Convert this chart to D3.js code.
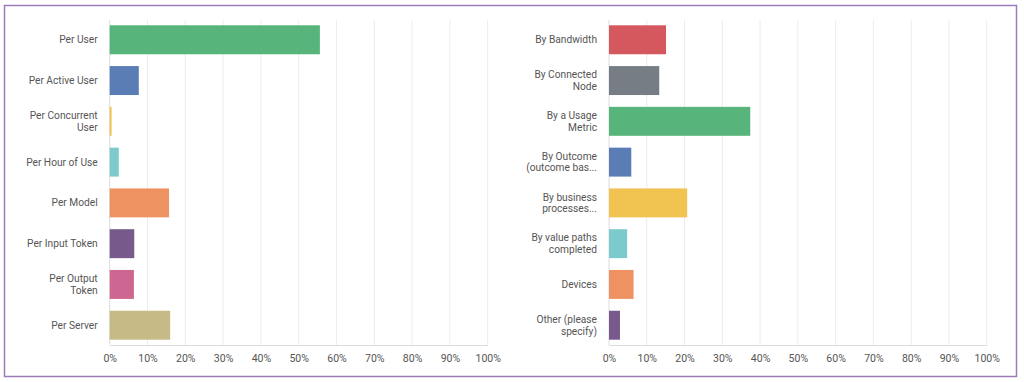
<!DOCTYPE html>
<html><head><meta charset="utf-8">
<script src="https://cdn.jsdelivr.net/npm/d3@7"></script>
<style>
html,body{margin:0;padding:0;background:#fff;}
svg{display:block;}
text{font-family:Roboto,"Open Sans",sans-serif;}
</style></head>
<body><svg id="c" width="1024" height="382"></svg>
<script>
const leftCategories = ["Per User","Per Active User","Per Concurrent User","Per Hour of Use","Per Model","Per Input Token","Per Output Token","Per Server"];
const leftLabels = [["Per User"],["Per Active User"],["Per Concurrent","User"],["Per Hour of Use"],["Per Model"],["Per Input Token"],["Per Output","Token"],["Per Server"]];
const leftValues = [55.6, 7.7, 0.5, 2.4, 15.7, 6.5, 6.4, 16.0];
const leftColors = ["#57b47b","#5a7db6","#f1c452","#7ccacb","#ef9262","#775a8b","#cd6690","#c6bb86"];

const rightCategories = ["By Bandwidth","By Connected Node","By a Usage Metric","By Outcome (outcome bas...","By business processes...","By value paths completed","Devices","Other (please specify)"];
const rightLabels = [["By Bandwidth"],["By Connected","Node"],["By a Usage","Metric"],["By Outcome","(outcome bas..."],["By business","processes..."],["By value paths","completed"],["Devices"],["Other (please","specify)"]];
const rightValues = [15.1, 13.3, 37.4, 5.9, 20.7, 4.8, 6.5, 2.9];
const rightColors = ["#d5585f","#767d84","#57b47b","#5a7db6","#f1c452","#7ccacb","#ef9262","#775a8b"];

const tickValues = [0,10,20,30,40,50,60,70,80,90,100];
const tickLabels = ["0%","10%","20%","30%","40%","50%","60%","70%","80%","90%","100%"];

const svg = d3.select("#c");
svg.append("rect").attr("x",4.5).attr("y",5.5).attr("width",1012).attr("height",371)
  .attr("fill","#fff").attr("stroke","#9f7bb9").attr("stroke-width",1.5);

function panel(x0, x1, cats, labels, vals, cols){
  const x = d3.scaleLinear().domain([0,100]).range([x0,x1]);
  const y = d3.scaleBand().domain(cats).range([20,345]).paddingInner(0.29).paddingOuter(0.13);
  const g = svg.append("g");
  g.selectAll("line.grid").data(tickValues.slice(1)).enter().append("line")
    .attr("x1",d=>x(d)).attr("x2",d=>x(d)).attr("y1",20).attr("y2",345)
    .attr("stroke","#ececec").attr("stroke-width",1);
  const ax = g.append("g").attr("transform","translate(0,345)")
    .call(d3.axisBottom(x).tickValues(tickValues).tickFormat((d,i)=>tickLabels[i]).tickSize(0).tickPadding(10));
  ax.select(".domain").attr("stroke","#dcdcdc").attr("stroke-width",1.2);
  ax.selectAll("text").attr("fill","#555").style("font-size","10.5px").style("font-family","Roboto,sans-serif");
  g.append("line").attr("x1",x0).attr("x2",x0).attr("y1",20).attr("y2",345).attr("stroke","#dcdcdc");
  g.selectAll("rect.bar").data(vals).enter().append("rect")
    .attr("x",x0).attr("y",(d,i)=>y(cats[i])).attr("height",y.bandwidth())
    .attr("width",d=>x(d)-x0).attr("fill",(d,i)=>cols[i]);
  labels.forEach((lines,i)=>{
    const cy = y(cats[i]) + y.bandwidth()/2;
    const n = lines.length, lh = 11.5;
    lines.forEach((s,k)=>{
      g.append("text").attr("text-anchor","end").attr("fill","#555")
        .style("font-size","10.2px")
        .attr("x",x0-12)
        .attr("y", cy - (n-1)*lh/2 + k*lh)
        .attr("dy","0.35em").text(s);
    });
  });
}
panel(109.7, 487.7, leftCategories, leftLabels, leftValues, leftColors);
panel(609, 986.7, rightCategories, rightLabels, rightValues, rightColors);
</script></body></html>
